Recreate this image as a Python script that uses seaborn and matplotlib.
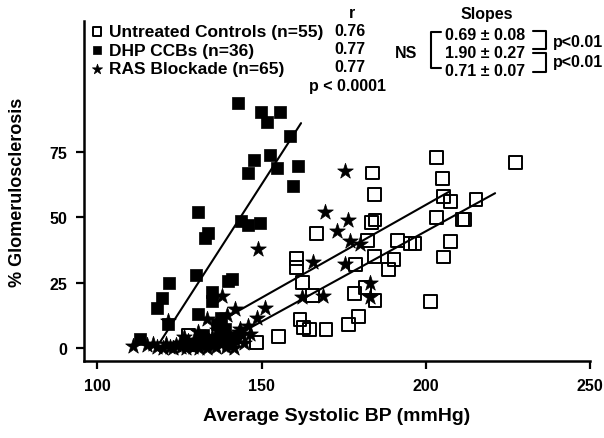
import matplotlib
matplotlib.use("Agg")
import matplotlib.pyplot as plt
import numpy as np
import pandas as pd
import seaborn as sns

# Untreated controls (open squares)
ctrl_bp = [203.3, 227.2, 183.8, 205.1, 184.4, 205.3, 207.4, 215.3, 203.3, 211.2, 211.9,
           184.5, 183.5, 166.6, 182.2, 191.3, 195.2, 196.7, 207.4, 160.7, 160.5, 178.7,
           184.3, 190.3, 205.3, 188.6, 162.5, 165.5, 178.4, 181.5, 184.5, 201.5, 161.7,
           162.7, 164.5, 169.6, 176.4, 179.4, 155.1, 127.7, 148.5]
ctrl_gs = [72.9, 71.0, 66.9, 64.8, 58.8, 57.9, 55.9, 56.9, 49.9, 49.0, 49.0,
           48.9, 48.0, 43.9, 41.0, 41.0, 40.0, 40.0, 40.7, 34.2, 30.7, 32.0,
           34.9, 33.9, 34.8, 29.9, 25.0, 19.9, 20.9, 23.1, 18.0, 17.7, 11.0,
           7.8, 6.9, 6.9, 9.1, 12.0, 4.4, 4.6, 2.1]

# DHP CCBs (filled squares)
ccb_bp = [142.7, 149.7, 155.6, 151.5, 158.6, 152.5, 147.7, 145.7, 154.6, 161.2, 159.5,
          130.7, 143.7, 145.7, 149.5, 133.8, 132.7, 129.9, 121.9, 139.8, 140.9, 119.8,
          118.0, 134.8, 134.8, 130.7, 121.6, 112.9, 136.4, 138.8, 132.0, 135.5, 140.0,
          128.5, 137.5, 142.0]
ccb_gs = [93.6, 90.1, 90.1, 86.3, 80.9, 73.9, 71.8, 66.9, 68.8, 69.7, 62.0,
          51.8, 48.6, 47.1, 47.7, 43.9, 41.9, 27.9, 25.0, 25.4, 26.3, 19.0,
          15.1, 21.2, 18.0, 12.9, 9.1, 3.3, 9.1, 7.2, 5.0, 3.0, 2.0,
          1.0, 11.5, 4.0]

# RAS blockade (stars)
ras_bp = [175.4, 169.3, 176.4, 173.1, 176.9, 180.0, 165.7, 175.4, 183.0, 183.0, 162.2,
          168.6, 149.0, 137.8, 141.9, 151.0, 148.5, 145.9, 143.4, 121.6, 110.9, 117.0,
          133.3, 139.5, 146.5,
          115, 118, 120, 121, 122, 123, 124, 125, 125.5, 126, 127, 127.5, 128, 129,
          129.5, 130, 131, 131.5, 132, 133, 133.5, 134, 135, 135.5, 136, 137, 137.5,
          138, 139, 139.5, 140, 141, 141.5, 142, 143, 144, 144.5, 136.5, 130.5, 126.5]
ras_gs = [67.7, 51.8, 48.9, 44.8, 41.0, 39.7, 32.9, 32.0, 24.7, 19.6, 19.5,
          19.9, 37.8, 19.9, 14.8, 15.1, 11.3, 8.4, 7.2, 10.3, 0.8, 1.4,
          11.0, 12.5, 5.5,
          1.0, 0.5, 0.0, 1.5, 0.5, 0.0, 1.0, 2.0, 0.5, 1.5, 0.0, 2.5, 1.0, 0.5,
          3.0, 1.5, 0.0, 2.0, 3.5, 1.0, 0.0, 2.5, 4.0, 1.0, 0.5, 3.0, 1.5,
          5.0, 0.5, 2.0, 4.0, 1.0, 0.0, 3.0, 6.0, 5.0, 2.0, 7.0, 6.0, 4.0]

# regression lines: DHP, RAS, controls
fit_slope = [1.95, 0.71, 0.69]
fit_icpt = [-229.95, -87.3, -93.4]
fit_x0 = [119.0, 138.3, 147.0]
fit_x1 = [162.0, 206.9, 221.1]

legend_labels = ["Untreated Controls (n=55)", "DHP CCBs (n=36)", "RAS Blockade (n=65)"]
r_values = ["0.76", "0.77", "0.77"]
slope_labels = ["0.69 \u00b1 0.08", "1.90 \u00b1 0.27", "0.71 \u00b1 0.07"]

sns.set_style("ticks")
plt.rcParams["font.family"] = ["Liberation Sans", "DejaVu Sans"]
plt.rcParams["font.weight"] = "bold"
plt.rcParams["axes.labelweight"] = "bold"
for key in ["text.color", "axes.labelcolor", "xtick.color", "ytick.color", "axes.edgecolor"]:
    plt.rcParams[key] = "black"

W, H = 604, 439
fig = plt.figure(figsize=(W / 100, H / 100), dpi=100)
ax = fig.add_axes([84 / W, 1 - 362 / H, (590 - 84) / W, (362 - 22) / H])

ctrl = pd.DataFrame({"bp": ctrl_bp, "gs": ctrl_gs})
ccb = pd.DataFrame({"bp": ccb_bp, "gs": ccb_gs})
ras = pd.DataFrame({"bp": ras_bp, "gs": ras_gs})

sns.scatterplot(data=ctrl, x="bp", y="gs", marker="s", s=85, facecolor="none",
                edgecolor="black", linewidth=1.4, ax=ax, label=legend_labels[0])
sns.scatterplot(data=ccb, x="bp", y="gs", marker="s", s=72, color="black",
                edgecolor="black", linewidth=0.5, ax=ax, label=legend_labels[1])
sns.scatterplot(data=ras, x="bp", y="gs", marker="*", s=140, color="black",
                edgecolor="black", linewidth=0.5, ax=ax, label=legend_labels[2])

for m, b, x0, x1 in zip(fit_slope, fit_icpt, fit_x0, fit_x1):
    xs = np.array([x0, x1])
    ax.plot(xs, m * xs + b, color="black", lw=1.5)

ax.set_xlim(95.9, 250)
ax.set_ylim(-5, 125)
ax.set_xticks([100, 150, 200, 250])
ax.set_yticks([0, 25, 50, 75])
ax.tick_params(labelsize=11.5, width=1.6, length=6, pad=6)
for sp in ["left", "bottom"]:
    ax.spines[sp].set_linewidth(1.8)
sns.despine(ax=ax)

ax.set_xlabel("Average Systolic BP (mmHg)", fontsize=14, labelpad=10)
ax.set_ylabel("% Glomerulosclerosis", fontsize=13)
ax.yaxis.set_label_coords(-0.115, 0.5)

ax.legend(loc="upper left", bbox_to_anchor=(92 / W, 1 - 25 / H), bbox_transform=fig.transFigure,
          frameon=False, fontsize=12.5, markerscale=0.65, handlelength=0.6,
          handletextpad=0.4, labelspacing=0.2, borderpad=0, borderaxespad=0)


def ftext(x, y, s, ha="center"):
    fig.text(x / W, 1 - y / H, s, ha=ha, va="center", fontsize=11.5, fontweight="bold")


def fline(xs, ys):
    fig.add_artist(plt.Line2D([x / W for x in xs], [1 - y / H for y in ys],
                              transform=fig.transFigure, color="black", lw=1.5))


ftext(352, 13, "r")
for yy, rv in zip([31, 50, 68], r_values):
    ftext(350, yy, rv)
ftext(348, 87, "p < 0.0001")

ftext(487, 15, "Slopes")
for yy, sl in zip([35, 53, 72], slope_labels):
    ftext(485, yy, sl)
ftext(406, 53, "NS")
ftext(553, 43, "p<0.01", ha="left")
ftext(553, 63, "p<0.01", ha="left")

fline([441, 431, 431, 441], [33, 33, 69, 69])
fline([533, 546, 546, 533], [32, 32, 50, 50])
fline([533, 546, 546, 533], [54, 54, 73, 73])

fig.savefig("out.png", dpi=100)
